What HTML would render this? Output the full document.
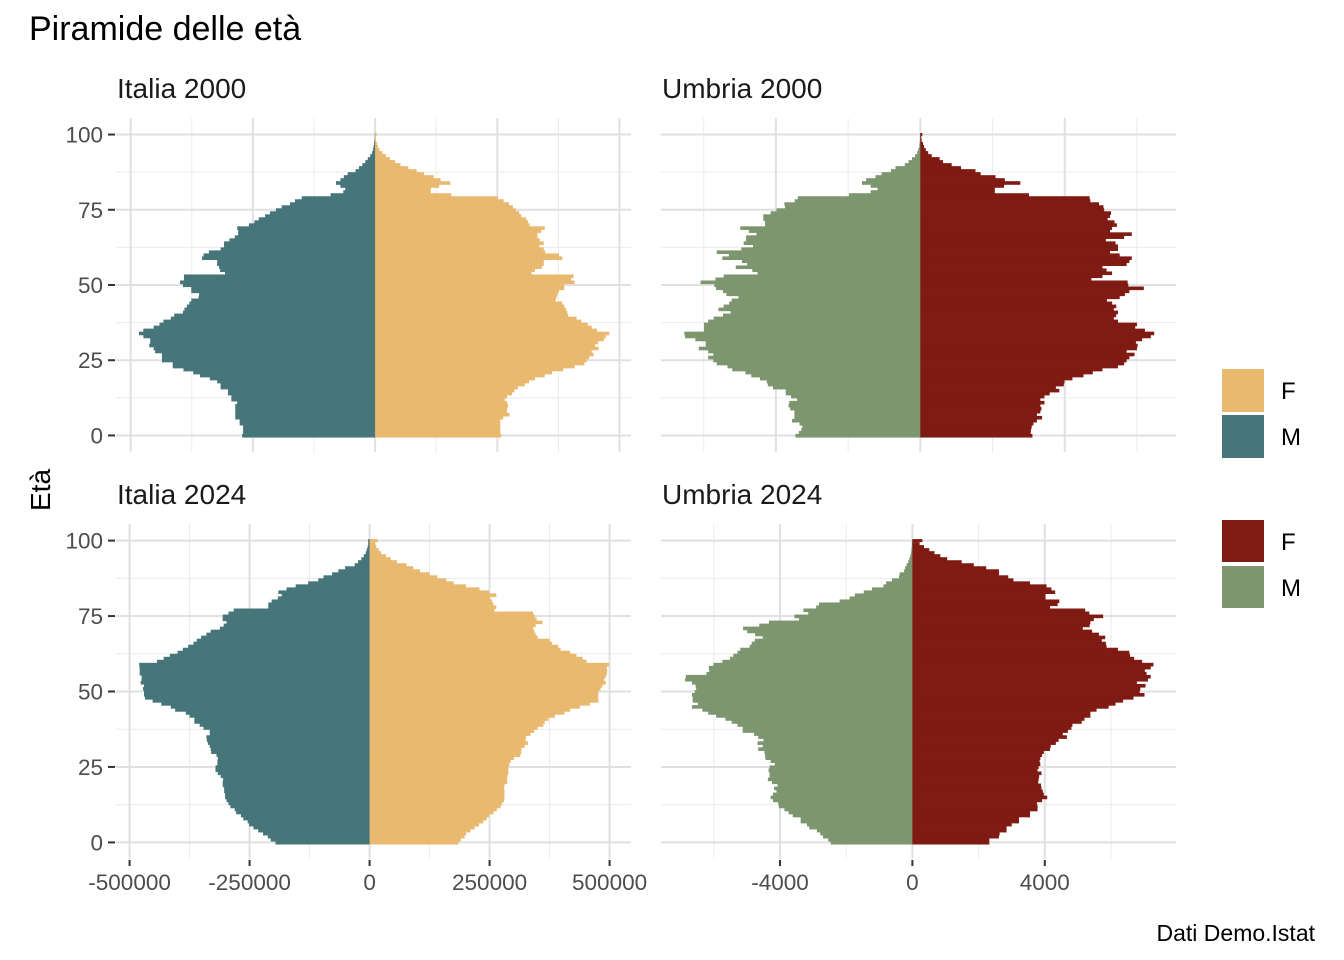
<!DOCTYPE html>
<html><head><meta charset="utf-8">
<style>
html,body{margin:0;padding:0;background:#fff;}
svg{display:block;font-family:"Liberation Sans",Arial,sans-serif;}
</style></head>
<body>
<svg id="chart" width="1344" height="960" viewBox="0 0 1344 960" xmlns="http://www.w3.org/2000/svg">
<rect x="0" y="0" width="1344" height="960" fill="#fff"/>
<text x="29" y="40" font-size="34" fill="#000">Piramide delle età</text>
<text transform="translate(50,490) rotate(-90)" text-anchor="middle" font-size="28" fill="#000">Età</text>
<text x="1315" y="941" text-anchor="end" font-size="23" fill="#000">Dati Demo.Istat</text>
<g id="panels"></g>
<g>
<rect x="1222" y="369" width="42" height="43" fill="#E8B96F"/>
<rect x="1222" y="415" width="42" height="43" fill="#46757A"/>
<text x="1281" y="399" font-size="24" fill="#000">F</text>
<text x="1281" y="445" font-size="24" fill="#000">M</text>
</g>
<g>
<rect x="1222" y="520" width="42" height="42" fill="#7F1B13"/>
<rect x="1222" y="566" width="42" height="42" fill="#7D9670"/>
<text x="1281" y="550" font-size="24" fill="#000">F</text>
<text x="1281" y="596" font-size="24" fill="#000">M</text>
</g>
</svg>
<script>
// Ages 0..100
const ages = Array.from({length:101},(_,i)=>i);
// Italia values in thousands of persons
const it2000M = [272,270,270,270,277,277,286,286,286,286,286,282,294,294,301,301,316,316,323,338,358,372,392,414,414,436,436,436,450,453,462,460,460,474,483,474,453,441,433,418,411,393,390,385,380,376,361,360,376,376,393,399,391,391,307,317,319,323,323,354,351,340,316,309,309,298,287,280,280,282,258,247,238,225,215,203,191,174,164,150,91,65,61,71,80,71,64,56,40,33,26,20,15,10,6,4,3,2,1,0.5,0.5];
const it2000F = [258,256,256,256,256,256,262,275,270,270,272,270,265,270,280,285,292,306,315,327,347,362,385,408,428,433,438,447,443,457,450,456,468,472,479,454,443,435,422,412,395,393,390,387,383,369,371,373,376,387,387,408,401,406,320,327,341,345,345,383,376,348,345,336,345,337,332,332,340,347,316,313,309,299,295,288,282,274,263,251,156,114,114,131,154,134,120,100,85,68,52,41,30,22,15,9,6,4,2,1,3];
const it2024M = [196,206,212,222,232,242,251,254,263,268,278,281,290,294,298,301,301,303,303,306,306,305,310,316,321,321,317,317,316,319,330,331,333,337,339,340,333,333,346,354,365,365,375,383,405,414,434,452,468,470,470,472,470,477,475,475,479,479,479,480,443,429,416,400,389,378,367,360,351,340,331,312,304,298,306,306,294,283,211,211,204,191,183,190,173,154,128,107,96,78,65,51,31,24,17,12,8,6,4,3,3];
const it2024F = [185,190,198,201,210,219,228,237,244,249,258,265,273,276,280,281,281,281,280,281,287,286,287,289,289,289,291,294,301,314,316,316,323,330,325,326,335,343,350,362,365,373,386,406,418,438,459,477,476,476,477,481,485,492,488,492,494,495,494,499,452,444,431,418,398,393,380,375,350,346,343,341,346,360,348,344,341,260,264,258,255,251,264,249,229,201,175,160,141,125,105,91,77,57,44,34,24,19,14,12,17];
// Umbria values in persons
const um2000M = [3459,3364,3297,3268,3345,3555,3488,3488,3488,3603,3650,3630,3412,3583,3727,3727,4080,4224,4252,4444,4682,4845,5208,5342,5638,5734,5877,5734,5877,6135,5944,5944,6231,6517,6536,5992,5992,5992,5877,5724,5466,5256,5590,5447,5294,5227,5036,5371,5466,5657,5705,6087,5676,5447,4510,4654,5112,4797,4940,5485,5303,5638,4959,4635,4893,4826,4826,4539,4749,4988,4300,4300,4348,4348,4147,3985,3746,3765,3478,3392,1978,1376,1185,1376,1615,1500,1242,1070,812,688,430,325,229,143,86,57,30,20,10,5,5];
const um2000F = [3106,3058,3068,3087,3134,3230,3373,3230,3326,3355,3326,3440,3326,3440,3584,3851,3756,3975,3994,4214,4520,4778,5046,5475,5648,5715,5791,5934,5715,6001,6020,5973,6145,6384,6479,6221,5953,6001,5476,5361,5428,5476,5361,5428,5313,5170,5523,5667,5791,6192,5762,5743,4740,5046,5313,5160,5046,5715,5791,5858,5523,5256,5476,5476,5409,5141,5648,5858,5256,5313,5447,5380,5189,5256,5284,5093,5074,4950,4711,4692,3010,2064,2064,2322,2771,2341,2083,1672,1529,1128,870,631,535,315,220,153,105,76,38,29,57];
const um2024M = [2469,2542,2699,2782,2886,3115,3188,3376,3376,3616,3741,3866,4033,4053,4210,4282,4210,4105,4178,4074,4241,4366,4314,4314,4345,4314,4157,4282,4439,4450,4470,4658,4522,4679,4501,4658,4783,5127,5127,5283,5460,5648,5929,6169,6346,6658,6481,6638,6638,6658,6575,6533,6550,6658,6867,6846,6221,6137,6150,6012,5741,5512,5408,5283,5200,4918,4856,4762,4522,4752,4991,5116,4626,4335,3428,3564,3147,3293,2907,2824,2199,1896,1740,1469,1219,875,792,615,406,386,250,219,177,125,94,63,40,30,20,15,10];
const um2024F = [2324,2324,2615,2636,2845,2845,3001,3220,3220,3553,3553,3782,3782,3762,3918,4074,3970,3940,3900,3887,3800,3814,3830,3900,3782,3814,3866,3845,3866,3918,3970,4157,4178,4335,4418,4668,4543,4699,4803,4835,5116,5200,5377,5377,5564,5929,6137,6366,6679,7013,6867,6888,7044,6783,7117,7200,7075,7023,7200,7284,6940,6700,6575,6554,6210,5866,5846,5721,5825,5637,5429,5148,5356,5377,5481,5762,5346,5220,4158,4387,4439,4022,4022,4314,4199,4053,3553,3053,2897,2615,2615,2230,1855,1490,1052,844,667,511,354,219,302];
const itUnit = 1000;
const itTicks = [-500000,-250000,0,250000,500000];
const itTickLabels = ["-500000","-250000","0","250000","500000"];
const itMinor = [-375000,-125000,125000,375000];
const umTicks = [-4000,0,4000];
const umTickLabels = ["-4000","0","4000"];
const umMinor = [-6000,-2000,2000,6000];
const ageTicks = [0,25,50,75,100];
const ageTickLabels = ["0","25","50","75","100"];
const ageMinor = [12.5,37.5,62.5,87.5];

const NS="http://www.w3.org/2000/svg";
const root=document.getElementById('panels');
function mk(tag,attrs,parent){const e=document.createElementNS(NS,tag);for(const k in attrs)e.setAttribute(k,attrs[k]);parent.appendChild(e);return e;}
function lin(d0,d1,r0,r1){return v=>r0+(v-d0)/(d1-d0)*(r1-r0);}

const panels=[
 {name:'italia-2000',title:'Italia 2000',x0:116,x1:631,y0:118,y1:452,dom:[-530000,523500],M:it2000M,F:it2000F,unit:itUnit,cM:'#46757A',cF:'#E8B96F',ticks:itTicks,labels:itTickLabels,minor:itMinor,left:true,bottom:false},
 {name:'umbria-2000',title:'Umbria 2000',x0:661,x1:1176,y0:118,y1:452,dom:[-7183,7083],M:um2000M,F:um2000F,unit:1,cM:'#7D9670',cF:'#7F1B13',ticks:umTicks,labels:umTickLabels,minor:umMinor,left:false,bottom:false},
 {name:'italia-2024',title:'Italia 2024',x0:116,x1:631,y0:524,y1:859,dom:[-528300,544600],M:it2024M,F:it2024F,unit:itUnit,cM:'#46757A',cF:'#E8B96F',ticks:itTicks,labels:itTickLabels,minor:itMinor,left:true,bottom:true},
 {name:'umbria-2024',title:'Umbria 2024',x0:661,x1:1176,y0:524,y1:859,dom:[-7595,7964],M:um2024M,F:um2024F,unit:1,cM:'#7D9670',cF:'#7F1B13',ticks:umTicks,labels:umTickLabels,minor:umMinor,left:false,bottom:true}
];

panels.forEach(p=>{
 const g=mk('g',{},root);
 
 
 const x=lin(p.dom[0],p.dom[1],p.x0,p.x1);
 const y=lin(-5.5,105.5,p.y1,p.y0);
 p.minor.forEach(v=>{const l=mk('line',{x1:x(v),x2:x(v),y1:p.y0,y2:p.y1,stroke:'#ebebeb','stroke-width':1},g);
  
  });
 ageMinor.forEach(v=>{const l=mk('line',{x1:p.x0,x2:p.x1,y1:y(v),y2:y(v),stroke:'#ebebeb','stroke-width':1},g);
  
  });
 p.ticks.forEach(v=>{const l=mk('line',{x1:x(v),x2:x(v),y1:p.y0,y2:p.y1,stroke:'#e0e0e0','stroke-width':2},g);
  
  });
 ageTicks.forEach(v=>{const l=mk('line',{x1:p.x0,x2:p.x1,y1:y(v),y2:y(v),stroke:'#e0e0e0','stroke-width':2},g);
  
  });
 ages.forEach((a,i)=>{
  const vm=p.M[i]*p.unit, vf=p.F[i]*p.unit;
  const yt=y(a+0.5), yb=y(a-0.5);
  const ext=(a===100)?0:0.6;
  const rm=mk('rect',{x:x(-vm),y:yt,width:x(0)-x(-vm)+0.3,height:yb-yt+ext,fill:p.cM},g);
  
  
  const rf=mk('rect',{x:x(0),y:yt,width:x(vf)-x(0),height:yb-yt+ext,fill:p.cF},g);
  
  
 });
 const t=mk('text',{x:p.x0+1,y:p.y0-20,'font-size':28,fill:'#1a1a1a'},g);
 t.textContent=p.title;
 
 
 if(p.left){
  ageTicks.forEach((v,i)=>{
   const tk=mk('line',{x1:p.x0-8,x2:p.x0-1,y1:y(v),y2:y(v),stroke:'#333','stroke-width':2},g);
   
   
   const tl=mk('text',{x:p.x0-13,y:y(v)+8,'text-anchor':'end','font-size':22.5,fill:'#4d4d4d'},g);
   tl.textContent=ageTickLabels[i];
   
   
  });
 }
 if(p.bottom){
  p.ticks.forEach((v,i)=>{
   const tk=mk('line',{x1:x(v),x2:x(v),y1:p.y1+1,y2:p.y1+7,stroke:'#333','stroke-width':2},g);
   
   
   const tl=mk('text',{x:x(v),y:p.y1+31,'text-anchor':'middle','font-size':22.5,fill:'#4d4d4d'},g);
   tl.textContent=p.labels[i];
   
   
  });
 }
});
</script>
</body></html>
